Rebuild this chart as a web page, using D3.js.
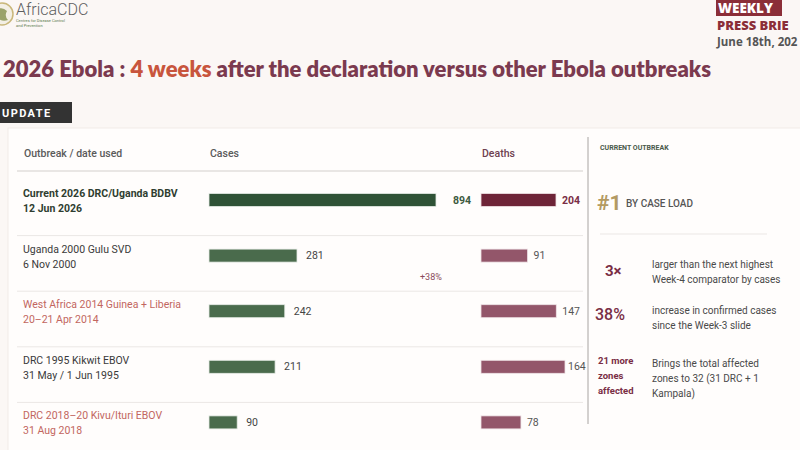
<!DOCTYPE html>
<html>
<head>
<meta charset="utf-8">
<title>2026 Ebola week-4 comparison</title>
<script src="https://cdn.jsdelivr.net/npm/d3@7"></script>
<style>
  html, body { margin: 0; padding: 0; background: #fbf7f5; }
  svg { display: block; font-family: Roboto, "Noto Sans", sans-serif; }
</style>
</head>
<body>
<svg id="chart" width="800" height="450"></svg>
<script>
// outbreak rows, top to bottom
var outbreaks = ['Current 2026 DRC/Uganda BDBV', 'Uganda 2000 Gulu SVD', 'West Africa 2014 Guinea + Liberia', 'DRC 1995 Kikwit EBOV', 'DRC 2018–20 Kivu/Ituri EBOV'];
var dates = ['12 Jun 2026', '6 Nov 2000', '20–21 Apr 2014', '31 May / 1 Jun 1995', '31 Aug 2018'];
var cases = [894, 281, 242, 211, 90];
var deaths = [204, 91, 147, 164, 78];

// right hand call-outs
var calloutBig = ['3×', '38%'];
var calloutText = [
  ['larger than the next highest', 'Week-4 comparator by cases'],
  ['increase in confirmed cases', 'since the Week-3 slide']
];
var zonesBig = ['21 more', 'zones', 'affected'];
var zonesText = ['Brings the total affected', 'zones to 32 (31 DRC + 1', 'Kampala)'];

var MAROON = '#7a2e45', GREEN = '#4a6b4c', SALMON = '#c2665f';

var svg = d3.select('#chart');

// slide background + card
svg.append('rect').attr('width', 800).attr('height', 450).attr('fill', '#fbf7f5');
svg.append('rect').attr('x', 8).attr('y', 128).attr('width', 800).attr('height', 330)
  .attr('fill', '#fffdfc').attr('stroke', '#f1ebe8');

// logo
svg.append('circle').attr('cx', 2).attr('cy', 14).attr('r', 11)
  .attr('fill', '#f3efe4').attr('stroke', '#c9b77a').attr('stroke-width', 1.5);
svg.append('path').attr('d', 'M-4,10 Q2,6 7,11 Q4,16 8,20 Q2,22 -3,18 Z').attr('fill', '#9aa36a');
svg.append('text').attr('x', 16).attr('y', 15).attr('font-size', 16).attr('font-weight', 300)
  .attr('fill', '#5e5e5e').text('AfricaCDC');
svg.append('text').attr('x', 16).attr('y', 22).attr('font-size', 4).attr('fill', '#5b7a4e').text('Centres for Disease Control');
svg.append('text').attr('x', 16).attr('y', 26.5).attr('font-size', 4).attr('fill', '#5b7a4e').text('and Prevention');

// top right badge (cropped at the slide edge in the source)
svg.append('rect').attr('x', 716).attr('y', 0).attr('width', 66).attr('height', 16).attr('fill', '#8b2e38');
svg.append('text').attr('x', 718).attr('y', 13).attr('font-family', '"Open Sans", sans-serif')
  .attr('font-weight', 800).attr('font-size', 13.5).attr('fill', '#fff').text('WEEKLY');
svg.append('text').attr('x', 717).attr('y', 30).attr('font-family', '"Open Sans", sans-serif')
  .attr('font-weight', 800).attr('font-size', 13).attr('fill', '#8b2e38').text('PRESS BRIE');
svg.append('text').attr('x', 717).attr('y', 46).attr('font-family', '"Open Sans", sans-serif')
  .attr('font-weight', 700).attr('font-size', 11.5).attr('fill', '#555').text('June 18th, 202');

// title
var title = svg.append('text').attr('x', 3).attr('y', 77)
  .attr('font-family', 'Lato, "Open Sans", sans-serif').attr('font-weight', 800).attr('font-size', 22)
  .attr('fill', '#7b3a4f').attr('textLength', 708).attr('lengthAdjust', 'spacingAndGlyphs');
title.append('tspan').text('2026 Ebola : ');
title.append('tspan').attr('fill', '#c8553d').text('4 weeks');
title.append('tspan').text(' after the declaration versus other Ebola outbreaks');

// UPDATE tag
svg.append('rect').attr('x', 0).attr('y', 102).attr('width', 72).attr('height', 21).attr('fill', '#333');
svg.append('text').attr('x', 2).attr('y', 117).attr('font-weight', 700).attr('font-size', 11)
  .attr('letter-spacing', 1.4).attr('fill', '#fff').text('UPDATE');

// scales
var y = d3.scaleBand().domain(outbreaks).range([180, 458]);
var rowMid = function (d) { return y(d) + 20; };
var barH = 13;
// comparators share one scale; the current outbreak bar is drawn on its own
var xCases = d3.scaleLinear().domain([0, d3.max(cases.slice(1))]).range([209, 297]);
var xCasesCur = d3.scaleLinear().domain([0, cases[0]]).range([209, 436]);
var xDeaths = d3.scaleLinear().domain([0, d3.max(deaths.slice(1))]).range([481, 565]);
var xDeathsCur = d3.scaleLinear().domain([0, deaths[0]]).range([481, 556]);

// headers
var hdr = svg.append('g').attr('font-size', 10.5).attr('font-weight', 500).attr('fill', '#5a5a5a');
hdr.append('text').attr('x', 24).attr('y', 157).text('Outbreak / date used');
hdr.append('text').attr('x', 210).attr('y', 157).text('Cases');
hdr.append('text').attr('x', 482).attr('y', 157).attr('fill', '#6e4150').text('Deaths');
svg.append('line').attr('x1', 17).attr('x2', 583).attr('y1', 171).attr('y2', 171)
  .attr('stroke', '#e2dedc').attr('stroke-width', 1.5);

// row separators
svg.append('g').selectAll('line').data(outbreaks.slice(1)).join('line')
  .attr('x1', 17).attr('x2', 583).attr('y1', function (d) { return y(d); }).attr('y2', function (d) { return y(d); })
  .attr('stroke', '#ebe7e5').attr('stroke-width', 1);

var rows = svg.append('g').selectAll('g').data(outbreaks).join('g');
var labelColor = function (i) { return i === 0 ? '#2f3d30' : (i % 2 === 0 ? SALMON : '#3a3a3a'); };

rows.append('text').attr('x', 23).attr('y', function (d) { return rowMid(d) - 3; })
  .attr('font-size', 10.5).attr('font-weight', function (d, i) { return i === 0 ? 700 : 400; })
  .attr('fill', function (d, i) { return labelColor(i); }).text(function (d) { return d; });
rows.append('text').attr('x', 23).attr('y', function (d) { return rowMid(d) + 12; })
  .attr('font-size', 10.5).attr('font-weight', function (d, i) { return i === 0 ? 700 : 400; })
  .attr('fill', function (d, i) { return labelColor(i); }).text(function (d, i) { return dates[i]; });

// case bars
var caseEnd = function (i) { return i === 0 ? xCasesCur(cases[0]) : xCases(cases[i]); };
rows.append('rect').attr('x', 209).attr('y', function (d) { return rowMid(d) - barH / 2; })
  .attr('width', function (d, i) { return caseEnd(i) - 209; }).attr('height', barH)
  .attr('fill', function (d, i) { return i === 0 ? '#2f5236' : GREEN; })
  .attr('stroke', '#e6ece6').attr('stroke-width', 0.8);
rows.append('text').attr('x', function (d, i) { return caseEnd(i) + (i === 0 ? 17 : 9); })
  .attr('y', function (d) { return rowMid(d); }).attr('dy', '0.35em')
  .attr('font-size', 10.5).attr('font-weight', function (d, i) { return i === 0 ? 700 : 400; })
  .attr('fill', function (d, i) { return i === 0 ? '#3d5a40' : '#444'; })
  .text(function (d, i) { return cases[i]; });

// death bars
var deathEnd = function (i) { return i === 0 ? xDeathsCur(deaths[0]) : xDeaths(deaths[i]); };
rows.append('rect').attr('x', 481).attr('y', function (d) { return rowMid(d) - barH / 2; })
  .attr('width', function (d, i) { return deathEnd(i) - 481; }).attr('height', barH)
  .attr('fill', function (d, i) { return i === 0 ? '#6e2438' : '#93566a'; })
  .attr('stroke', '#efe4e7').attr('stroke-width', 0.8);
rows.append('text').attr('x', function (d, i) { return deathEnd(i) + (i === 3 ? 3 : 6); })
  .attr('y', function (d) { return rowMid(d); }).attr('dy', '0.35em')
  .attr('font-size', 10.5).attr('font-weight', function (d, i) { return i === 0 ? 700 : 400; })
  .attr('fill', function (d, i) { return i === 0 ? MAROON : '#555'; })
  .text(function (d, i) { return deaths[i]; });

svg.append('text').attr('x', 420).attr('y', 280).attr('font-size', 9).attr('fill', '#8a4a5a').text('+38%');

// divider
svg.append('line').attr('x1', 588).attr('x2', 588).attr('y1', 137).attr('y2', 424)
  .attr('stroke', '#a8a4a2').attr('stroke-width', 1);

// right panel
svg.append('text').attr('x', 600).attr('y', 150).attr('font-size', 7).attr('font-weight', 700)
  .attr('fill', '#4a5a4a').text('CURRENT OUTBREAK');
svg.append('text').attr('x', 597).attr('y', 210).attr('font-size', 21).attr('font-weight', 700)
  .attr('fill', '#b39a63').text('#1');
svg.append('text').attr('x', 626).attr('y', 207).attr('font-size', 10).attr('font-weight', 500)
  .attr('fill', '#555').text('BY CASE LOAD');
svg.append('line').attr('x1', 600).attr('x2', 767).attr('y1', 234).attr('y2', 234)
  .attr('stroke', '#ebe7e5');

var cx = [605, 595], cyBig = [276, 320], cyTxt = [268, 314];
calloutBig.forEach(function (t, i) {
  svg.append('text').attr('x', cx[i]).attr('y', cyBig[i]).attr('font-size', i === 0 ? 15 : 16)
    .attr('font-weight', i === 0 ? 700 : 500).attr('fill', MAROON).text(t);
  calloutText[i].forEach(function (line, j) {
    svg.append('text').attr('x', 652).attr('y', cyTxt[i] + j * 15).attr('font-size', 10)
      .attr('fill', '#4a4a4a').text(line);
  });
});
zonesBig.forEach(function (t, j) {
  svg.append('text').attr('x', 598).attr('y', 364 + j * 15).attr('font-size', 9.5).attr('font-weight', 700)
    .attr('fill', MAROON).text(t);
});
zonesText.forEach(function (t, j) {
  svg.append('text').attr('x', 652).attr('y', 367 + j * 15).attr('font-size', 10)
    .attr('fill', '#4a4a4a').text(t);
});
</script>
</body>
</html>
